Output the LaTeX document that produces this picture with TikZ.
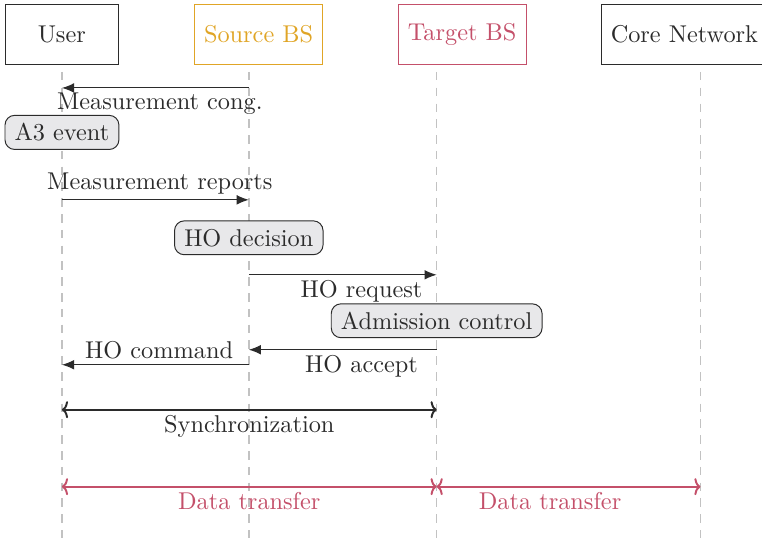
\documentclass[tikz,border=0pt]{standalone}
\usepackage{xcolor}
\usepackage{tikz}
\usetikzlibrary{arrows.meta}
\definecolor{ink}{HTML}{2B2B2B}
\definecolor{source}{HTML}{E0A526}
\definecolor{target}{HTML}{C4506A}
\definecolor{lifegray}{HTML}{C2C2C2}
\definecolor{notefill}{HTML}{E8E8EA}

\begin{document}
\begin{tikzpicture}[
  actor/.style={rectangle, draw=ink, text=ink, minimum height=0.86cm, inner xsep=4pt, anchor=west},
  lifeline/.style={dash pattern=on 3.5pt off 3pt, color=lifegray, line width=0.6pt},
  note/.style={rectangle, rounded corners=4pt, draw=ink, fill=notefill, text=ink,
               minimum height=0.48cm, inner xsep=4pt},
  msg/.style={-{Latex[length=5pt,width=4pt]}, color=ink, line width=0.45pt},
  span/.style={{To[length=2.5pt,width=7pt]}-{To[length=2.5pt,width=7pt]}, line width=0.8pt},
  msgtext/.style={inner sep=2pt, text=ink},
]
  \useasboundingbox (0,0) rectangle (11.02,-7.77);

  % participants
  \node[actor, minimum width=1.63cm] (user) at (0.072, -0.499) {User};
  \node[actor, draw=source, text=source] (src) at (2.803, -0.499) {Source BS};
  \node[actor, draw=target, text=target] (tgt) at (5.751, -0.499) {Target BS};
  \node[actor] (core) at (8.685, -0.499) {Core Network};

  % lifelines
  \coordinate (usrtop) at (0.896, -1.04);  \coordinate (usrbot) at (0.896, -7.85);
  \coordinate (srctop) at (3.598, -1.04);  \coordinate (srcbot) at (3.598, -7.85);
  \coordinate (tgttop) at (6.315, -1.04);  \coordinate (tgtbot) at (6.315, -7.85);
  \coordinate (cortop) at (10.13, -1.04);  \coordinate (corbot) at (10.13, -7.85);
  \draw[lifeline] (usrtop) -- (usrbot);
  \draw[lifeline] (srctop) -- (srcbot);
  \draw[lifeline] (tgttop) -- (tgtbot);
  \draw[lifeline] (cortop) -- (corbot);

  % message rows
  \coordinate (m1) at (0, -1.272);
  \coordinate (m2) at (0, -2.890);
  \coordinate (m3) at (0, -3.974);
  \coordinate (m4) at (0, -5.058);
  \coordinate (m5) at (0, -5.275);
  \coordinate (m6) at (0, -5.925);
  \coordinate (m7) at (0, -7.038);

  % local actions
  \node[note, minimum width=1.63cm] (a3)    at (0.896, -1.915) {A3 event};
  \node[note]                       (hodec) at (3.598, -3.439) {HO decision};
  \node[note]                       (admit) at (6.315, -4.639) {Admission control};

  \draw[msg] (srctop |- m1) -- node[msgtext, pos=0.476, below] {Measurement cong.} (usrtop |- m1);
  \draw[msg] (usrtop |- m2) -- node[msgtext, pos=0.524, above] {Measurement reports} (srctop |- m2);
  \draw[msg] (srctop |- m3) -- node[msgtext, pos=0.6, below] {HO request} (tgttop |- m3);
  \draw[msg] (tgttop |- m4) -- node[msgtext, pos=0.4, below] {HO accept} (srctop |- m4);
  \draw[msg] (srctop |- m5) -- node[msgtext, pos=0.48, above] {HO command} (usrtop |- m5);

  \draw[span, color=ink] (usrtop |- m6) -- node[msgtext, below] {Synchronization} (tgttop |- m6);
  \draw[span, color=target] (usrtop |- m7) -- node[msgtext, text=target, below] {Data transfer} (tgttop |- m7);
  \draw[span, color=target] (tgttop |- m7) -- node[msgtext, text=target, pos=0.43, below] {Data transfer} (cortop |- m7);
\end{tikzpicture}
\end{document}
